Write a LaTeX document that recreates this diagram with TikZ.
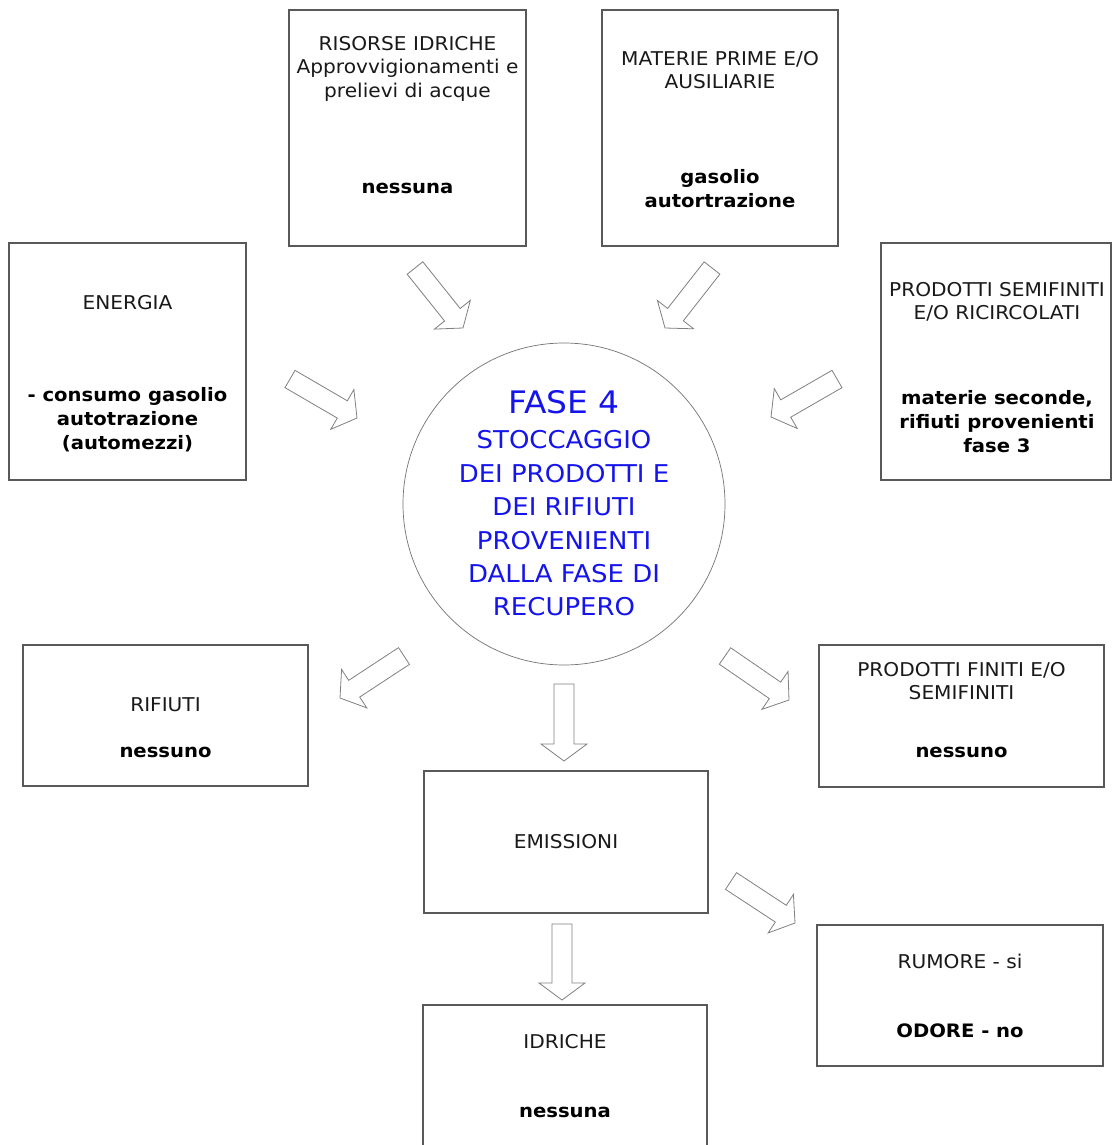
\documentclass[tikz,border=0pt]{standalone}
\usepackage{fontspec}
\setmainfont{DejaVu Sans}[FakeStretch=1.06]
\usetikzlibrary{calc}
\definecolor{fblue}{RGB}{20,20,235}
\tikzset{
  box/.style={draw=black!65, line width=1.3pt, fill=white, inner sep=0pt},
  reg/.style={font=\fontsize{19}{23.5}\selectfont, align=center, inner sep=0pt, text=black!90},
  bld/.style={font=\fontsize{18.5}{24}\selectfont\bfseries, align=center, inner sep=0pt},
  blu/.style={font=\fontsize{24.5}{33.4}\selectfont, align=center, inner sep=0pt, text=fblue},
  arrline/.style={draw=black!50, line width=0.8pt, fill=white, line join=miter}
}
\newcommand{\fatarrow}[3]{%
  \coordinate (#1-t) at (#2);
  \coordinate (#1-p) at (#3);
  \coordinate (#1-h) at ($(#1-p)!17pt!(#1-t)$);
  \draw[arrline] ($(#1-t)!10pt!90:(#1-p)$) -- ($(#1-h)!10pt!90:(#1-p)$)
    -- ($(#1-h)!23pt!90:(#1-p)$) -- (#1-p) -- ($(#1-h)!23pt!-90:(#1-p)$)
    -- ($(#1-h)!10pt!-90:(#1-p)$) -- ($(#1-t)!10pt!-90:(#1-p)$) -- cycle;
}
\begin{document}
\begin{tikzpicture}[x=1pt,y=-1pt]
\useasboundingbox (0,0) rectangle (1113,1145);
\fill[white] (0,0) rectangle (1113,1145);

% boxes
\node[box, minimum width=237, minimum height=236] (risorse) at (407.5,128) {};
\node[box, minimum width=236, minimum height=236] (materie) at (720,128) {};
\node[box, minimum width=237, minimum height=237] (energia) at (127.5,361.5) {};
\node[box, minimum width=230, minimum height=237] (semifin) at (996,361.5) {};
\node[box, minimum width=285, minimum height=141] (rifiuti) at (165.5,715.5) {};
\node[box, minimum width=285, minimum height=142] (finiti) at (961.5,716) {};
\node[box, minimum width=284, minimum height=142] (emissioni) at (566,842) {};
\node[box, minimum width=286, minimum height=141] (rumore) at (960,995.5) {};
\node[box, minimum width=284, minimum height=145] (idriche) at (565,1077.5) {};

% central circle
\node[circle, draw=black!55, line width=0.7pt, fill=white, minimum size=322, inner sep=0pt] (fase) at (564,504) {};

% texts
\node[reg] (risorse-a) at (407.5,68.5) {RISORSE IDRICHE\\Approvvigionamenti e\\prelievi di acque};
\node[bld] (risorse-b) at (407.5,188) {nessuna};
\node[reg] (materie-a) at (720,70) {MATERIE PRIME E/O\\AUSILIARIE};
\node[bld] (materie-b) at (720,189) {gasolio\\autortrazione};
\node[reg] (energia-a) at (127.5,303) {ENERGIA};
\node[bld] (energia-b) at (127.5,420) {- consumo gasolio\\autotrazione\\(automezzi)};
\node[reg] (semifin-a) at (997,302) {PRODOTTI SEMIFINITI\\E/O RICIRCOLATI};
\node[bld] (semifin-b) at (997,422) {materie seconde,\\rifiuti provenienti\\fase 3};
\node[reg] (rifiuti-a) at (165.5,705) {RIFIUTI};
\node[bld] (rifiuti-b) at (165.5,752) {nessuno};
\node[reg] (finiti-a) at (961.5,681) {PRODOTTI FINITI E/O\\SEMIFINITI};
\node[bld] (finiti-b) at (961.5,752) {nessuno};
\node[reg] (emissioni-a) at (566,842) {EMISSIONI};
\node[reg] (rumore-a) at (960,961) {RUMORE - si};
\node[bld] (rumore-b) at (960,1031) {ODORE - no};
\node[reg] (idriche-a) at (565,1042) {IDRICHE};
\node[bld] (idriche-b) at (565,1112) {nessuna};
\node[blu, font=\fontsize{31}{36}\selectfont] (fase-a) at (564,402) {FASE 4};
\node[blu] (fase-b) at (564,523.5) {STOCCAGGIO\\DEI PRODOTTI E\\DEI RIFIUTI\\PROVENIENTI\\DALLA FASE DI\\RECUPERO};

% block arrows
\fatarrow{a1}{415,268}{463,328}
\fatarrow{a2}{712,268}{665,328}
\fatarrow{a3}{290,379}{357,418}
\fatarrow{a4}{837,379}{771,417}
\fatarrow{a5}{404,656}{340,698}
\fatarrow{a6}{564,684}{564,761}
\fatarrow{a7}{725,656}{789,700}
\fatarrow{a8}{731,881}{795,923}
\fatarrow{a9}{562,924}{562,1000}
\end{tikzpicture}
\end{document}
